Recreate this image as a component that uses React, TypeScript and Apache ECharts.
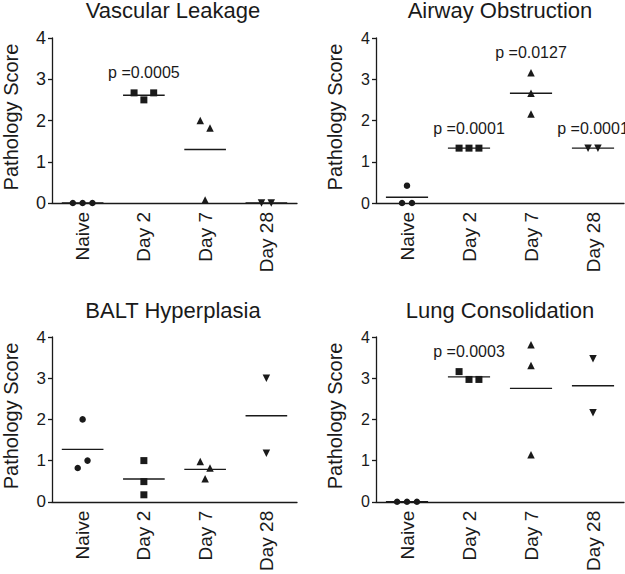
import React, { useEffect, useRef } from "react";
import * as echarts from "echarts";

// ---------- data ----------
const categories = ["Naive", "Day 2", "Day 7", "Day 28"];
const panelTitles = ["Vascular Leakage", "Airway Obstruction", "BALT Hyperplasia", "Lung Consolidation"];
const yAxisName = "Pathology Score";

const vascularNaive = [0, 0, 0];
const vascularDay2 = [2.67, 2.5, 2.67];
const vascularDay7 = [2.0, 1.82, 0.07];
const vascularDay28 = [0, 0];
const vascularP = ["", "p =0.0005", "", ""];

const airwayNaive = [0.42, 0, 0];
const airwayDay2 = [1.33, 1.33, 1.33];
const airwayDay7 = [3.16, 2.66, 2.16];
const airwayDay28 = [1.33, 1.33];
const airwayP = ["", "p =0.0001", "p =0.0127", "p =0.0001"];

const baltNaive = [2.0, 0.82, 1.0];
const baltDay2 = [1.0, 0.49, 0.17];
const baltDay7 = [0.98, 0.82, 0.56];
const baltDay28 = [3.0, 1.18];
const baltP = ["", "", "", ""];

const lungNaive = [0, 0, 0];
const lungDay2 = [3.16, 2.97, 2.97];
const lungDay7 = [3.81, 3.31, 1.14];
const lungDay28 = [3.47, 2.16];
const lungP = ["", "p =0.0003", "", ""];

const yMin = 0;
const yMax = 4;
const yInterval = 1;

// ---------- layout / style ----------
const FONT = '"Liberation Sans", Arial, Helvetica, sans-serif';
const INK = "#1a1a1a";
const grids = [
  { left: 49, top: 38, width: 248, height: 165 },
  { left: 376, top: 38, width: 248, height: 165 },
  { left: 49, top: 337, width: 248, height: 167 },
  { left: 376, top: 337, width: 248, height: 167 },
];
const titleY = [10, 10, 310.5, 310.5];
const yLabelSize = [18, 16, 17, 16];
const symbols = ["circle", "rect", "triangle", "triangle"];
const symbolSizes = [6.5, 7, 7.5, 7.5];
const symbolRotates = [0, 0, 0, 180];
const JITTER_STEP = 0.16; // category units between neighbouring overlapping points
const OVERLAP = 0.2; // value units under which points are considered overlapping
const MEAN_HALF = 0.34;

function jitter(vals: number[]): number[] {
  const idx = vals.map((v, i) => i).sort((a, b) => vals[a] - vals[b]);
  const clusters: number[][] = [];
  idx.forEach((i, k) => {
    if (k > 0 && vals[i] - vals[idx[k - 1]] < OVERLAP) clusters[clusters.length - 1].push(i);
    else clusters.push([i]);
  });
  const off = vals.map(() => 0);
  clusters.forEach((c) => {
    const ordered = [...c].sort((a, b) => a - b);
    ordered.forEach((i, k) => {
      off[i] = (k - (ordered.length - 1) / 2) * JITTER_STEP;
    });
  });
  return off;
}

const mean = (a: number[]) => a.reduce((s, v) => s + v, 0) / a.length;

export default function App() {
  const ref = useRef<HTMLDivElement>(null);
  useEffect(() => {
    if (!ref.current) return;
    const chart = echarts.init(ref.current, undefined, { renderer: "svg" });
    const panels = [
      { groups: [vascularNaive, vascularDay2, vascularDay7, vascularDay28], p: vascularP },
      { groups: [airwayNaive, airwayDay2, airwayDay7, airwayDay28], p: airwayP },
      { groups: [baltNaive, baltDay2, baltDay7, baltDay28], p: baltP },
      { groups: [lungNaive, lungDay2, lungDay7, lungDay28], p: lungP },
    ];

    const xAxis: any[] = [];
    const yAxis: any[] = [];
    const series: any[] = [];
    const graphic: any[] = [];

    panels.forEach((panel, pi) => {
      xAxis.push({
        gridIndex: pi,
        type: "category",
        data: categories,
        boundaryGap: true,
        axisLine: { onZero: false, lineStyle: { color: INK, width: 1.3 } },
        axisTick: { alignWithLabel: true, length: 4, lineStyle: { color: INK, width: 1.3 } },
        axisLabel: { rotate: 90, fontSize: 19, color: INK, margin: 9, fontFamily: FONT },
        splitLine: { show: false },
      });
      xAxis.push({
        gridIndex: pi,
        type: "value",
        min: -0.5,
        max: categories.length - 0.5,
        show: false,
        axisLine: { show: false, onZero: false },
        splitLine: { show: false },
      });
      yAxis.push({
        gridIndex: pi,
        type: "value",
        min: yMin,
        max: yMax,
        interval: yInterval,
        axisLine: { show: true, onZero: false, lineStyle: { color: INK, width: 1.3 } },
        axisTick: { show: true, length: 4, lineStyle: { color: INK, width: 1.3 } },
        axisLabel: { fontSize: yLabelSize[pi], color: INK, margin: 6, fontFamily: FONT },
        splitLine: { show: false },
        name: yAxisName,
        nameLocation: "middle",
        nameGap: 31,
        nameTextStyle: { fontSize: 20, color: INK, fontFamily: FONT, padding: [0, 0, 0, 7] },
      });

      panel.groups.forEach((vals, gi) => {
        const off = jitter(vals);
        series.push({
          type: "scatter",
          xAxisIndex: pi * 2 + 1,
          yAxisIndex: pi,
          symbol: symbols[gi],
          symbolSize: symbolSizes[gi],
          symbolRotate: symbolRotates[gi],
          itemStyle: { color: INK, opacity: 1 },
          data: vals.map((v, i) => [gi + off[i], v]),
          z: 3,
        });
        const m = mean(vals);
        series.push({
          type: "line",
          xAxisIndex: pi * 2 + 1,
          yAxisIndex: pi,
          symbol: "none",
          silent: true,
          lineStyle: { color: INK, width: 1.4 },
          data: [
            [gi - MEAN_HALF, m],
            [gi + MEAN_HALF, m],
          ],
          z: 2,
        });
      });

      const pData = panel.p
        .map((t, gi) => (t ? [gi, Math.max(...panel.groups[gi]), t] : null))
        .filter((d) => d !== null);
      if (pData.length) {
        series.push({
          type: "scatter",
          xAxisIndex: pi * 2 + 1,
          yAxisIndex: pi,
          symbol: "circle",
          symbolSize: 0,
          itemStyle: { color: INK, opacity: 1 },
          data: pData,
          label: {
            show: true,
            position: "top",
            distance: 12,
            formatter: (p: any) => p.data[2],
            fontSize: 16,
            color: INK,
            opacity: 1,
            fontFamily: FONT,
          },
          z: 4,
        });
      }

      graphic.push({
        type: "text",
        x: grids[pi].left + grids[pi].width / 2,
        y: titleY[pi],
        style: {
          text: panelTitles[pi],
          fontSize: 22,
          fontFamily: FONT,
          fill: INK,
          textAlign: "center",
          textVerticalAlign: "middle",
        },
      });
    });

    chart.setOption({
      animation: false,
      backgroundColor: "#ffffff",
      grid: grids.map((g) => ({ ...g, containLabel: false })),
      xAxis,
      yAxis,
      series,
      graphic,
    });
    return () => chart.dispose();
  }, []);
  return (
    <div
      ref={ref}
      style={{ position: "absolute", left: 0, top: 0, width: 625, height: 574 }}
    />
  );
}
